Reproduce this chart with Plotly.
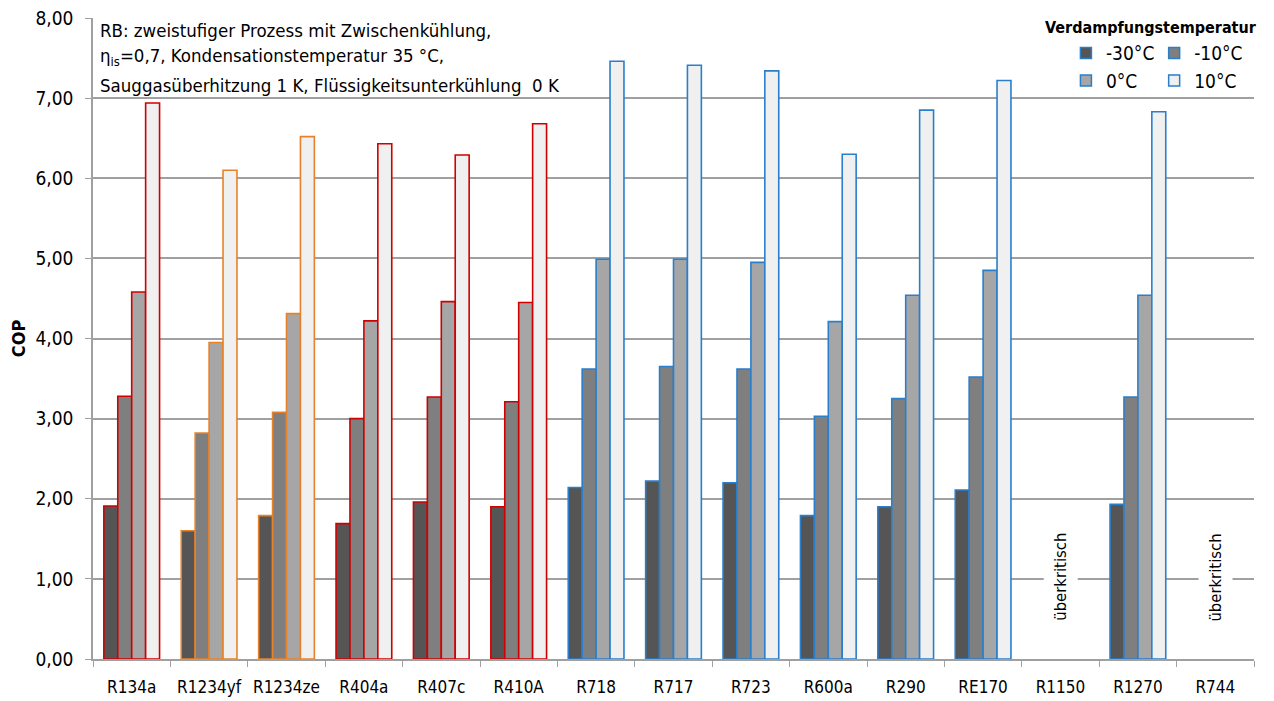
import plotly.graph_objects as go

# Kaeltemittel und COP-Werte
kaeltemittel = ["R134a", "R1234yf", "R1234ze", "R404a", "R407c", "R410A", "R718", "R717",
                "R723", "R600a", "R290", "RE170", "R1150", "R1270", "R744"]
cop_m30 = [1.91, 1.60, 1.79, 1.69, 1.96, 1.90, 2.14, 2.22, 2.20, 1.79, 1.90, 2.11, None, 1.93, None]
cop_m10 = [3.28, 2.82, 3.08, 3.00, 3.27, 3.21, 3.62, 3.65, 3.62, 3.03, 3.25, 3.52, None, 3.27, None]
cop_0 = [4.58, 3.95, 4.31, 4.22, 4.46, 4.45, 4.99, 4.99, 4.95, 4.21, 4.54, 4.85, None, 4.54, None]
cop_10 = [6.94, 6.10, 6.52, 6.43, 6.29, 6.68, 7.46, 7.41, 7.34, 6.30, 6.85, 7.22, None, 6.83, None]
ueberkritisch = ["R1150", "R744"]

temps = ["-30°C", "-10°C", "0°C", "10°C"]
series = [cop_m30, cop_m10, cop_0, cop_10]
fills = ["#555555", "#7f7f7f", "#a6a6a6", "#f0f0f0"]

# Umrandung je Kaeltemittelgruppe
rot, orange, blau = "#d10000", "#e8822a", "#2a7fcc"
gruppe = {"R134a": rot, "R404a": rot, "R407c": rot, "R410A": rot,
          "R1234yf": orange, "R1234ze": orange}
rand = [gruppe.get(k, blau) for k in kaeltemittel]

info = ["RB: zweistufiger Prozess mit Zwischenkühlung,",
        "η<sub>is</sub>=0,7, Kondensationstemperatur 35 °C,",
        "Sauggasüberhitzung 1 K, Flüssigkeitsunterkühlung  0 K"]

FONT = "Liberation Sans Narrow, DejaVu Sans Condensed, Arial Narrow, sans-serif"

fig = go.Figure()
for name, vals, col in zip(temps, series, fills):
    fig.add_trace(go.Bar(x=kaeltemittel, y=vals, name=name, showlegend=False,
                         marker=dict(color=col, line=dict(color=rand, width=1.6))))

# Legende (zwei Spalten -> zwei Legenden)
for i, (name, col) in enumerate(zip(temps, fills)):
    fig.add_trace(go.Scatter(x=[None], y=[None], mode="markers", name=name,
                             legend="legend" if i % 2 == 0 else "legend2",
                             marker=dict(symbol="square", size=11, color=col,
                                         line=dict(color=blau, width=1.5))))

for zeile, yy in zip(info, [0.981, 0.939, 0.894]):
    fig.add_annotation(text=zeile, xref="paper", yref="paper", x=0.004, y=yy,
                       xanchor="left", yanchor="middle", align="left", showarrow=False,
                       font=dict(size=18.5, color="black"))
fig.add_annotation(text="<b>Verdampfungstemperatur</b>", xref="paper", yref="paper",
                   x=1.004, y=1.003, xanchor="right", yanchor="top", showarrow=False,
                   font=dict(size=16, color="black"))
for k in ueberkritisch:
    fig.add_annotation(text="überkritisch", x=k, y=1.02, textangle=-90, showarrow=False,
                       bgcolor="white", borderpad=7, font=dict(size=16.5, color="black"))

# Seite hat 8px body-margin -> Figur etwas kleiner
fig.update_layout(
    width=1266, height=693,
    margin=dict(l=85, r=20, t=10, b=42, autoexpand=False),
    paper_bgcolor="white", plot_bgcolor="white",
    barmode="group", bargap=0.28, bargroupgap=0,
    separators=",.",
    font=dict(family=FONT, size=16, color="black"),
    legend=dict(x=0.838, y=0.975, xanchor="left", yanchor="top", bgcolor="rgba(0,0,0,0)",
                font=dict(size=19), itemwidth=30, tracegroupgap=0),
    legend2=dict(x=0.914, y=0.975, xanchor="left", yanchor="top", bgcolor="rgba(0,0,0,0)",
                 font=dict(size=19), itemwidth=30, tracegroupgap=0),
)
fig.update_xaxes(automargin=False, showline=True, linecolor="#a0a0a0", linewidth=1.5,
                 ticks="outside", tickson="boundaries", ticklen=6, tickcolor="#a0a0a0",
                 showgrid=False, tickfont=dict(size=17), tickangle=0, ticklabelstandoff=12)
fig.update_yaxes(automargin=False, range=[0, 8], dtick=1, tickformat=".2f", showline=True,
                 linecolor="#a0a0a0", linewidth=1.5, ticks="outside", ticklen=6,
                 tickcolor="#a0a0a0", showgrid=True, gridcolor="#a0a0a0", gridwidth=1.5,
                 zeroline=False, tickfont=dict(size=19), ticklabelstandoff=8,
                 ticklabeloverflow="allow",
                 title=dict(text="<b>COP</b>", font=dict(size=18), standoff=10))

fig.write_html("out.html")
